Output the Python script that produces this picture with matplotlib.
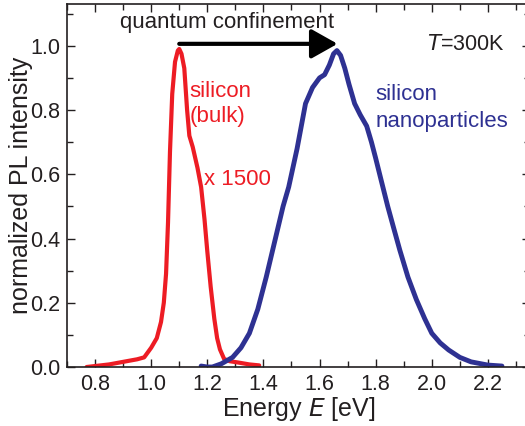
import matplotlib.pyplot as plt
from matplotlib.ticker import MultipleLocator

plt.rcParams['font.family'] = ['Liberation Sans', 'DejaVu Sans']

# bulk silicon PL (x1500), normalized
bulk_E = [0.77, 0.85, 0.9, 0.95, 0.975, 1.0, 1.02, 1.035, 1.045, 1.053, 1.06, 1.067,
          1.075, 1.085, 1.095, 1.1, 1.108, 1.118, 1.128, 1.136, 1.148, 1.165, 1.178,
          1.19, 1.2, 1.212, 1.225, 1.235, 1.245, 1.26, 1.28, 1.31, 1.35, 1.385]
bulk_I = [0.0, 0.008, 0.016, 0.024, 0.03, 0.06, 0.09, 0.14, 0.2, 0.29, 0.45, 0.67,
          0.85, 0.95, 0.985, 0.99, 0.975, 0.93, 0.8, 0.72, 0.685, 0.62, 0.56,
          0.46, 0.36, 0.25, 0.15, 0.09, 0.055, 0.025, 0.018, 0.014, 0.008, 0.005]

# silicon nanoparticles PL, normalized
nano_E = [1.178, 1.2, 1.218, 1.25, 1.29, 1.32, 1.35, 1.38, 1.41, 1.44, 1.47, 1.49,
          1.52, 1.55, 1.575, 1.6, 1.618, 1.635, 1.65, 1.662, 1.675, 1.69, 1.705,
          1.725, 1.745, 1.768, 1.785, 1.8, 1.82, 1.843, 1.865, 1.886, 1.915, 1.945,
          1.975, 2.0, 2.03, 2.06, 2.1, 2.14, 2.2, 2.25]
nano_I = [0.003, 0.0, 0.0, 0.01, 0.03, 0.06, 0.105, 0.18, 0.28, 0.39, 0.5, 0.56,
          0.68, 0.82, 0.87, 0.9, 0.91, 0.94, 0.975, 0.985, 0.97, 0.93, 0.88,
          0.82, 0.785, 0.75, 0.7, 0.65, 0.58, 0.5, 0.43, 0.364, 0.28, 0.21,
          0.15, 0.105, 0.075, 0.053, 0.03, 0.016, 0.006, 0.003]

red = '#ed1c24'
blue = '#2e3192'
ink = '#231f20'

fig = plt.figure(figsize=(5.25, 4.26), dpi=100)
ax = fig.add_axes([67/525, 59/426, 463/525, 363/426])

ax.plot(bulk_E, bulk_I, color=red, lw=3, solid_capstyle='round')
ax.plot(nano_E, nano_I, color=blue, lw=3.5, solid_capstyle='round')

ax.annotate('', xy=(1.664, 1.006), xytext=(1.1, 1.006),
            arrowprops=dict(arrowstyle='-|>,head_length=0.8,head_width=0.45',
                            mutation_scale=20, lw=3, color='black',
                            shrinkA=0, shrinkB=0))

fs = 16
ax.text(1.271, 1.056, 'quantum confinement', ha='center', va='baseline',
        fontsize=fs, color=ink)
ax.text(2.26, 0.988, r'$\mathit{T}$=300K', ha='right', va='baseline',
        fontsize=15.5, color=ink)
ax.text(1.136, 0.84, 'silicon', ha='left', va='baseline', fontsize=fs, color=red)
ax.text(1.136, 0.763, '(bulk)', ha='left', va='baseline', fontsize=fs, color=red)
ax.text(1.19, 0.567, 'x 1500', ha='left', va='baseline', fontsize=fs, color=red)
ax.text(1.80, 0.832, 'silicon', ha='left', va='baseline', fontsize=fs, color=blue)
ax.text(1.80, 0.748, 'nanoparticles', ha='left', va='baseline', fontsize=fs, color=blue)

ax.set_xlim(0.7, 2.35)
ax.set_ylim(0, 1.13)
ax.xaxis.set_major_locator(MultipleLocator(0.2))
ax.xaxis.set_minor_locator(MultipleLocator(0.1))
ax.yaxis.set_major_locator(MultipleLocator(0.2))
ax.yaxis.set_minor_locator(MultipleLocator(0.1))
ax.xaxis.set_major_formatter(plt.FormatStrFormatter('%.1f'))
ax.yaxis.set_major_formatter(plt.FormatStrFormatter('%.1f'))

ax.tick_params(which='both', direction='in', top=True, right=True, color=ink,
               width=1, labelsize=15.5, labelcolor=ink)
ax.tick_params(which='major', length=6, pad=5)
ax.tick_params(which='minor', length=4)
for s in ax.spines.values():
    s.set_linewidth(1.2)
    s.set_color(ink)

ax.set_xlabel(r'Energy $\mathit{E}$ [eV]', fontsize=18, color=ink, labelpad=0)
ax.set_ylabel('normalized PL intensity', fontsize=18, color=ink, labelpad=-2)

fig.savefig('out.png', dpi=100)
